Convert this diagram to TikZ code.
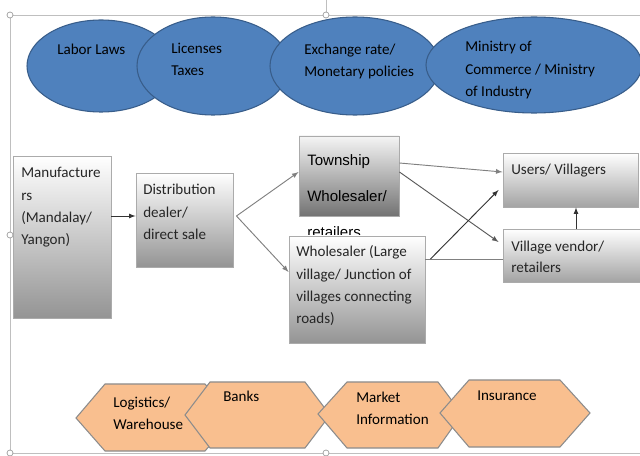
\documentclass[tikz,border=0pt]{standalone}
\usepackage{fontspec}
\setmainfont{Carlito}
\newfontfamily\arialfont{Liberation Sans}
\usetikzlibrary{fit,calc}
\definecolor{ellblue}{HTML}{4F81BD}
\definecolor{ellline}{HTML}{385D8A}
\definecolor{peach}{HTML}{F9BF8F}
\definecolor{hexline}{HTML}{8C8C8C}
\definecolor{framegray}{HTML}{BFBFBF}

\begin{document}
\begin{tikzpicture}[x=0.75pt,y=0.75pt,>=latex]
\tikzstyle{every node}+=[inner sep=0pt]
% base west of a text block = baseline of its last line
\tikzstyle{txt}=[anchor=base west,align=left,font=\fontsize{11.3}{16.7}\selectfont,text=black!85]
\tikzstyle{box}=[draw=black!33,line width=0.7pt,top color=white,bottom color=black!42]
\tikzstyle{ell}=[fill=ellblue,draw=ellline,line width=0.8pt]
\tikzstyle{hexa}=[fill=peach,draw=hexline,line width=0.8pt]
\tikzstyle{garr}=[->,draw=black!50,line width=0.7pt]
\tikzstyle{darr}=[->,draw=black!80,line width=0.7pt]
\tikzstyle{handle}=[draw=black!40,fill=white,line width=0.5pt]
\useasboundingbox (0,0) rectangle (640,-456);
% frame of the slide selection
\draw [framegray,line width=0.6pt] (10,-15) -- (640,-15);
\draw [framegray,line width=0.6pt] (10,-15) -- (10,-453) -- (640,-453);
\draw [framegray,line width=0.6pt] (326,0) -- (326,-12);
\draw [handle] (10,-15) circle (3);
\draw [handle] (326,-15) circle (3);
\draw [handle] (10,-235) circle (3);
\draw [handle] (10,-453) circle (3);
\draw [handle] (326,-453) circle (3);
% top row
\draw [ell] (101,-66) ellipse [x radius=74,y radius=46];
\node [txt,text=black] (labor) at (57,-55) {Labor Laws};
\draw [ell] (213,-66) ellipse [x radius=76,y radius=49];
\node [txt,text=black] (licen) at (171,-75.3) {Licenses\\Taxes};
\draw [ell] (355,-66) ellipse [x radius=85,y radius=49];
\node [txt,text=black] (exch) at (304,-76.3) {Exchange rate/\\Monetary policies};
\draw [ell] (534,-65) ellipse [x radius=108,y radius=48];
\node [txt,text=black] (minis) at (465,-96.5) {Ministry of\\Commerce / Ministry\\of Industry};
% supply chain
\node [box,fit={(13,-156) (111,-318)}] (manu) {};
\node [txt] (manutxt) at (21,-244.8) {Manufacture\\rs\\(Mandalay/\\Yangon)};
\node [box,fit={(136,-173) (233,-267)}] (dist) {};
\node [txt] (disttxt) at (143,-239.5) {Distribution\\dealer/\\direct sale};
\node [box,top color=black!4,bottom color=black!55,fit={(299,-136) (399,-216)}] (town) {};
\node [txt,text=black,font=\arialfont\fontsize{11.3}{27}\selectfont] (towntxt) at (307,-238) {Township\\Wholesaler/\\retailers};
\node [box,fit={(289,-236) (425,-343)}] (whole) {};
\node [txt] (wholetxt) at (296,-323.8) {Wholesaler (Large\\village/ Junction of\\villages connecting\\roads)};
\node [box,bottom color=black!36,fit={(503,-153) (638,-207)}] (users) {};
\node [txt] (userstxt) at (511,-175) {Users/ Villagers};
\node [box,bottom color=black!36,fit={(503,-229) (640,-282)}] (vendor) {};
\node [txt,font=\fontsize{11.3}{15.8}\selectfont] (vendortxt) at (511,-273) {Village vendor/\\retailers};
\coordinate (fan) at ($(dist.east)+(3,4)$);
\coordinate (split) at ($(whole.east)+(5,30.5)$);
\draw [darr] ($(manu.east)+(0,21)$) -- ($(dist.west)+(0,4)$);
\draw [garr] (fan) -- ($(town.west)+(0,4)$);
\draw [garr] (fan) -- ($(whole.west)+(0,17.5)$);
\draw [garr] ($(town.east)+(0,13)$) -- ($(users.west)+(0,8)$);
\draw [darr,draw=black!65] ($(town.east)+(0,4)$) -- ($(vendor.west)+(-4,13.5)$);
\draw [black!50,line width=0.7pt] ($(whole.east)+(0,30.5)$) -- ($(vendor.west)+(0,-3.5)$);
\draw [darr] (split) -- ($(users.west)+(-4,-10)$);
\draw [darr] ($(vendor.north)+(4.5,0)$) -- ($(users.south)+(5.5,0)$);
% bottom row
\draw [hexa] (76,-418) -- (105,-384) -- (205,-384) -- (234,-418) -- (205,-451) -- (105,-451) -- cycle;
\node [txt,text=black] (logis) at (113,-429.3) {Logistics/\\Warehouse};
\draw [hexa] (185,-415) -- (210,-382) -- (305,-382) -- (330,-415) -- (305,-448) -- (210,-448) -- cycle;
\node [txt,text=black] (banks) at (223,-402) {Banks};
\draw [hexa] (318,-414) -- (347,-382) -- (438,-382) -- (462,-414) -- (438,-448) -- (347,-448) -- cycle;
\node [txt,text=black] (market) at (356,-424.3) {Market\\Information};
\draw [hexa] (440,-413) -- (469,-380) -- (560,-380) -- (590,-413) -- (560,-447) -- (469,-447) -- cycle;
\node [txt,text=black] (insur) at (477,-401) {Insurance};
\end{tikzpicture}
\end{document}
